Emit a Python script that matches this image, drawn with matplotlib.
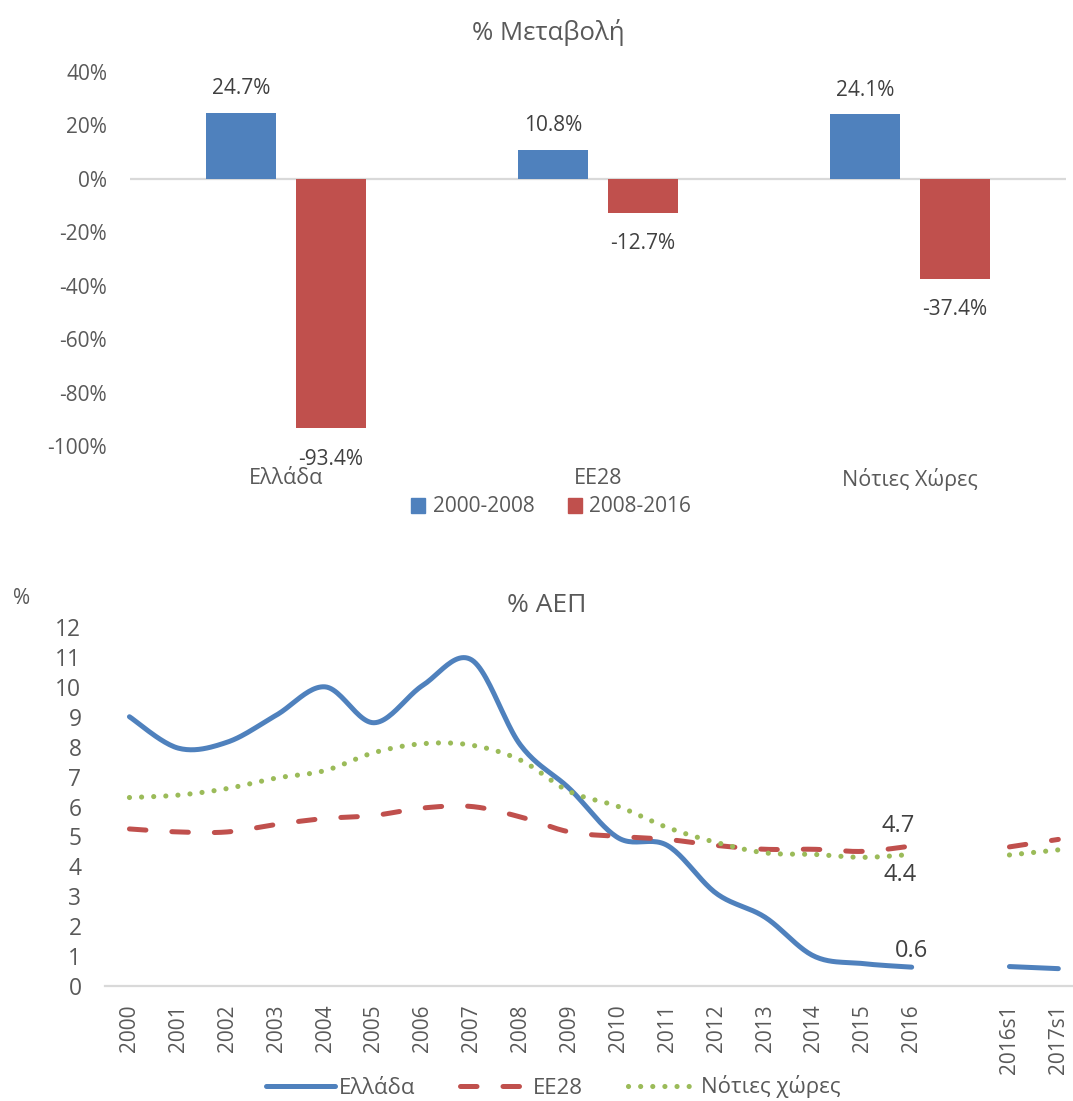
import numpy as np
import matplotlib.pyplot as plt
from matplotlib.lines import Line2D
from matplotlib.patches import Patch

# --- top chart data: % change ---
regions = ["Ελλάδα", "ΕΕ28", "Νότιες Χώρες"]
period_labels = ["2000-2008", "2008-2016"]
chg_2000_2008 = [24.7, 10.8, 24.1]
chg_2008_2016 = [-93.4, -12.7, -37.4]

# --- bottom chart data: % of GDP ---
years = ["2000", "2001", "2002", "2003", "2004", "2005", "2006", "2007", "2008",
         "2009", "2010", "2011", "2012", "2013", "2014", "2015", "2016", "",
         "2016s1", "2017s1"]
greece = [9.0, 7.95, 8.15, 9.05, 10.0, 8.8, 10.05, 10.9, 8.05, 6.6, 4.95, 4.7,
          3.1, 2.3, 1.0, 0.75, 0.63, np.nan, 0.65, 0.58]
eu28 = [5.25, 5.15, 5.15, 5.4, 5.6, 5.7, 5.95, 6.0, 5.65, 5.15, 5.0, 4.9,
        4.7, 4.57, 4.57, 4.5, 4.68, np.nan, 4.65, 4.9]
south = [6.3, 6.38, 6.6, 6.95, 7.2, 7.8, 8.1, 8.05, 7.55, 6.5, 6.0, 5.3,
         4.8, 4.45, 4.4, 4.3, 4.4, np.nan, 4.38, 4.55]
line_names = ["Ελλάδα", "ΕΕ28", "Νότιες χώρες"]

BLUE, RED, GREEN = "#4F81BD", "#C0504D", "#9BBB59"
TXT = "#595959"
LBL = "#404040"
AXC = "#D9D9D9"

plt.rcParams["font.family"] = ["Open Sans", "DejaVu Sans"]
plt.rcParams["text.color"] = TXT


def smooth(xs, ys, n=25):
    # excel-like smoothed line (bezier through the points)
    pts = np.column_stack([xs, ys])
    out = []
    for i in range(len(pts) - 1):
        p0 = pts[max(i - 1, 0)]
        p1 = pts[i]
        p2 = pts[i + 1]
        p3 = pts[min(i + 2, len(pts) - 1)]
        c1 = p1 + (p2 - p0) / 6
        c2 = p2 - (p3 - p1) / 6
        t = np.linspace(0, 1, n)[:, None]
        seg = (1 - t) ** 3 * p1 + 3 * (1 - t) ** 2 * t * c1 + 3 * (1 - t) * t ** 2 * c2 + t ** 3 * p2
        out.append(seg if i == 0 else seg[1:])
    return np.vstack(out)


def segments(vals):
    # split a series at the missing values
    vals = np.asarray(vals, dtype=float)
    idx = np.arange(len(vals))
    segs, cur = [], []
    for i in idx:
        if not np.isnan(vals[i]):
            cur.append(i)
        elif cur:
            segs.append(cur)
            cur = []
    if cur:
        segs.append(cur)
    return [(idx[s], vals[s]) for s in segs]


W, H = 1073, 1101
fig = plt.figure(figsize=(W / 100, H / 100), dpi=100)

# ---------------- top: bar chart ----------------
ax1 = fig.add_axes([130 / W, 1 - 446 / H, 936 / W, (446 - 72) / H])
x = np.arange(len(regions))
bw, off = 0.225, 0.143
b1 = ax1.bar(x - off, chg_2000_2008, bw, color=BLUE, zorder=3)
b2 = ax1.bar(x + off, chg_2008_2016, bw, color=RED, zorder=3)
ax1.axhline(0, color=AXC, lw=1.6, zorder=2)
ax1.set_xlim(-0.5, 2.5)
ax1.set_ylim(-100, 40)
ax1.set_yticks(np.arange(-100, 41, 20))
ax1.set_yticklabels([f"{v}%" for v in range(-100, 41, 20)])
ax1.set_xticks(x)
ax1.set_xticklabels(regions)
ax1.tick_params(axis="y", length=0, pad=16.5, labelsize=15, labelcolor=TXT)
ax1.tick_params(axis="x", length=0, pad=16, labelsize=15.5, labelcolor=TXT)
for s in ax1.spines.values():
    s.set_visible(False)
for r, v in zip(b1, chg_2000_2008):
    ax1.annotate(f"{v}%", (r.get_x() + r.get_width() / 2, v), xytext=(0, 10),
                 textcoords="offset points", ha="center", va="bottom", fontsize=15, color=LBL)
for r, v in zip(b2, chg_2008_2016):
    ax1.annotate(f"{v}%", (r.get_x() + r.get_width() / 2, v), xytext=(0, -14.5),
                 textcoords="offset points", ha="center", va="top", fontsize=15, color=LBL)
fig.text(548 / W, 1 - 32 / H, "% Μεταβολή", ha="center", va="center", fontsize=18.5, color=TXT)
fig.legend([Patch(color=BLUE), Patch(color=RED)], period_labels, loc="center",
           bbox_to_anchor=(551 / W, 1 - 507 / H), ncol=2, frameon=False, fontsize=15,
           handlelength=0.7, handleheight=0.7, handletextpad=0.35, columnspacing=1.6,
           labelcolor=TXT)

# ---------------- bottom: line chart ----------------
ax2 = fig.add_axes([105 / W, 1 - 986 / H, (W - 105) / W, (986 - 627) / H])
styles = [
    dict(color=BLUE, lw=3.6, solid_capstyle="round"),
    dict(color=RED, lw=3.6, dashes=(3.3, 5.2), dash_capstyle="round"),
    dict(color=GREEN, lw=3.7, dashes=(0.01, 2.35), dash_capstyle="round"),
]
for vals, st in zip([greece, eu28, south], styles):
    for xs, ys in segments(vals):
        c = smooth(xs, ys)
        ax2.plot(c[:, 0], c[:, 1], **st)
ax2.set_xlim(-0.5, 19.3)
ax2.set_ylim(0, 12)
ax2.set_yticks(range(0, 13))
ax2.set_xticks(range(len(years)))
ax2.set_xticklabels(years, rotation=90)
ax2.tick_params(axis="y", length=0, pad=17, labelsize=16.4, labelcolor=TXT)
ax2.tick_params(axis="x", length=0, pad=13.5, labelsize=15, labelcolor=TXT)
for s in ["top", "right", "left"]:
    ax2.spines[s].set_visible(False)
ax2.spines["bottom"].set_color(AXC)
ax2.spines["bottom"].set_linewidth(1.6)

i16 = years.index("2016")
ax2.annotate(f"{eu28[i16]:.1f}", (i16, eu28[i16]), xytext=(-10, 6), textcoords="offset points",
             ha="center", va="bottom", fontsize=17, color=LBL)
ax2.annotate(f"{south[i16]:.1f}", (i16, south[i16]), xytext=(-8, -6), textcoords="offset points",
             ha="center", va="top", fontsize=17, color=LBL)
ax2.annotate(f"{greece[i16]:.1f}", (i16, greece[i16]), xytext=(0, 3), textcoords="offset points",
             ha="center", va="bottom", fontsize=17, color=LBL)

fig.text(547 / W, 1 - 606 / H, "% ΑΕΠ", ha="center", va="center", fontsize=19, color=TXT)
fig.text(13 / W, 1 - 598 / H, "%", ha="left", va="center", fontsize=15, color=TXT)

handles = [Line2D([], [], **st) for st in styles]
fig.legend(handles, line_names, loc="center", bbox_to_anchor=(553 / W, 1 - 1087 / H), ncol=3,
           frameon=False, fontsize=16, handlelength=3.1, handletextpad=0.2, columnspacing=2.0,
           labelcolor=TXT)

fig.savefig("out.png", dpi=100)
